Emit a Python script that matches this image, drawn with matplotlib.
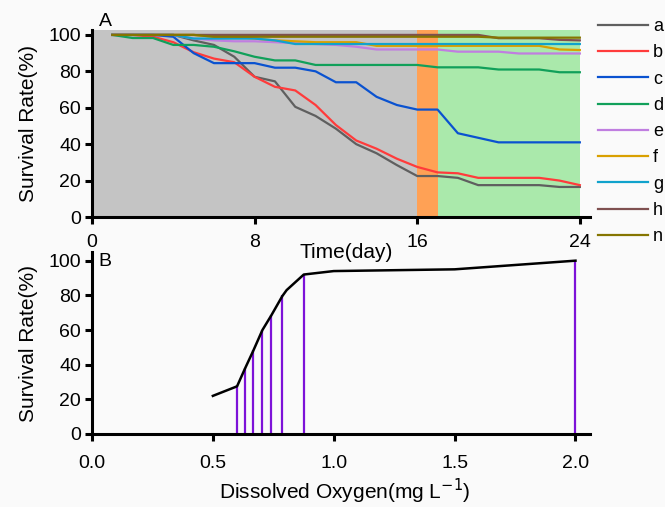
import numpy as np
import matplotlib
matplotlib.use('Agg')
from matplotlib import pyplot as plt

plt.rcParams['font.family'] = ['Liberation Sans', 'DejaVu Sans']

# Panel A: survival rate over time for each group
days = list(range(1, 25))
series = {
    'a': [100, 100, 100, 100, 97, 94.5, 88, 77, 74.5, 60.5, 55.5, 48.5, 40, 35, 28.5, 22.5,
          22.5, 21.5, 17.5, 17.5, 17.5, 17.5, 16.5, 16.5],
    'b': [100, 100, 99, 96, 90.5, 87, 85, 77, 71.5, 69.5, 61.5, 50.5, 42, 37.5, 32, 27.5,
          24.5, 24, 21.5, 21.5, 21.5, 21.5, 20, 17.5],
    'c': [100, 100, 100, 99, 90, 84.5, 84.5, 84.5, 82, 82, 80, 74, 74, 66, 61.5, 59,
          59, 46, 43.5, 41, 41, 41, 41, 41],
    'd': [100, 98.3, 98.3, 94.5, 94.5, 93.5, 91, 88, 86, 86, 83.5, 83.5, 83.5, 83.5, 83.5, 83.5,
          82.2, 82.2, 82.2, 81, 81, 81, 79.5, 79.5],
    'e': [100, 100, 100, 100, 98, 97, 96.5, 96.5, 96, 95.5, 95, 94.5, 93.5, 92, 92, 92,
          92, 90.8, 90.8, 90.8, 89.8, 89.8, 89.8, 89.8],
    'f': [100, 100, 100, 100, 100, 99, 99, 98, 97, 96.5, 96, 96, 96, 94, 94, 94,
          94, 94, 94, 94, 94, 94, 92, 91.7],
    'g': [100, 100, 100, 100, 98, 98, 98, 98, 97, 95, 95, 95, 95, 95, 95, 95,
          95, 95, 95, 95, 95, 95, 95, 95],
    'h': [100, 100, 100, 100, 100, 100, 100, 100, 100, 100, 100, 100, 100, 100, 100, 100,
          100, 100, 100, 98.2, 98.2, 98.2, 97.3, 97],
    'n': [100, 100, 100, 100, 100, 99, 99, 99, 99, 99, 99, 99, 99, 99, 99, 99,
          99, 99, 99, 98.5, 98.5, 98.5, 98.5, 98.5],
}
colors = {'a': '#5f5f5f', 'b': '#ff3b3b', 'c': '#0a52d0', 'd': '#11a05a', 'e': '#c07ee0',
          'f': '#d9a000', 'g': '#10a2cc', 'h': '#7f5050', 'n': '#857500'}

# Panel B: survival vs dissolved oxygen
do_line_x = [0.5, 0.6, 0.632, 0.667, 0.705, 0.742, 0.787, 0.805, 0.876, 1.0, 1.5, 2.0]
do_line_y = [22, 27.5, 37.5, 48, 60, 68.5, 79.5, 83, 92, 94, 95, 100]
do_bar_x = [0.6, 0.632, 0.667, 0.705, 0.742, 0.787, 0.876, 2.0]
do_bar_y = [28.5, 38, 48.5, 60, 68.5, 80, 92, 100]

W, H = 665, 507
bg = '#fafafa'
fig = plt.figure(figsize=(W / 100, H / 100), dpi=100, facecolor=bg)
ax1 = fig.add_axes([92 / W, 1 - 217 / H, 498 / W, 187 / H])
ax2 = fig.add_axes([92 / W, 1 - 434 / H, 498 / W, 182 / H])
ax2.patch.set_visible(False)  # so "Time(day)" above it is not covered

for ax in (ax1, ax2):
    ax.set_facecolor(bg)
    for s in ('top', 'right'):
        ax.spines[s].set_visible(False)
    for s in ('left', 'bottom'):
        ax.spines[s].set_linewidth(2.2)
    ax.tick_params(width=2.2, length=5, labelsize=14, pad=3)
ax1.tick_params(axis='x', pad=7)
ax2.tick_params(axis='x', pad=10)

# shaded periods
ax1.axvspan(0, 16, color='#c4c4c4', lw=0, zorder=0)
ax1.axvspan(16, 17, color='#ffa155', lw=0, zorder=0)
ax1.axvspan(17, 24, color='#aae9ab', lw=0, zorder=0)

for name, vals in series.items():
    ax1.plot(days, vals, color=colors[name], lw=1.6, label=name, zorder=2)

ax1.set_xlim(0, 24.5)
ax1.set_ylim(0, 102.7)
ax1.set_xticks([0, 8, 16, 24])
ax1.set_yticks([0, 20, 40, 60, 80, 100])
ax1.set_ylabel('Survival Rate(%)', fontsize=15, va='center')
ax1.yaxis.set_label_coords((28 - 92) / 498, 0.5)
ax1.set_xlabel('Time(day)', fontsize=15, va='center')
ax1.xaxis.set_label_coords((346 - 92) / 498, -(253 - 217) / 187)

ax2.plot(do_line_x, do_line_y, color='black', lw=1.8, zorder=3)
ax2.vlines(do_bar_x, 0, do_bar_y, color='#7d12d8', lw=1.6, zorder=2)
ax2.set_xlim(0, 2.06)
ax2.set_ylim(0, 105)
ax2.set_xticks([0, 0.5, 1.0, 1.5, 2.0])
ax2.set_xticklabels(['0.0', '0.5', '1.0', '1.5', '2.0'])
ax2.set_yticks([0, 20, 40, 60, 80, 100])
ax2.set_ylabel('Survival Rate(%)', fontsize=15, va='center')
ax2.yaxis.set_label_coords((28 - 92) / 498, 0.5)
ax2.set_xlabel('Dissolved Oxygen(mg L$^{-1}$)', fontsize=15, va='center')
ax2.xaxis.set_label_coords((345 - 92) / 498, -(491 - 434) / 182)

fig.text(105 / W, 1 - 21 / H, 'A', fontsize=14, ha='center', va='center')
fig.text(105 / W, 1 - 261 / H, 'B', fontsize=14, ha='center', va='center')

fig.legend(loc='upper left', bbox_to_anchor=(598 / W, 1 - 18 / H), frameon=False,
           fontsize=13, handlelength=2.77, handletextpad=0.28, labelspacing=0.515,
           borderpad=0, borderaxespad=0)

fig.savefig('out.png', dpi=100, facecolor=fig.get_facecolor())
